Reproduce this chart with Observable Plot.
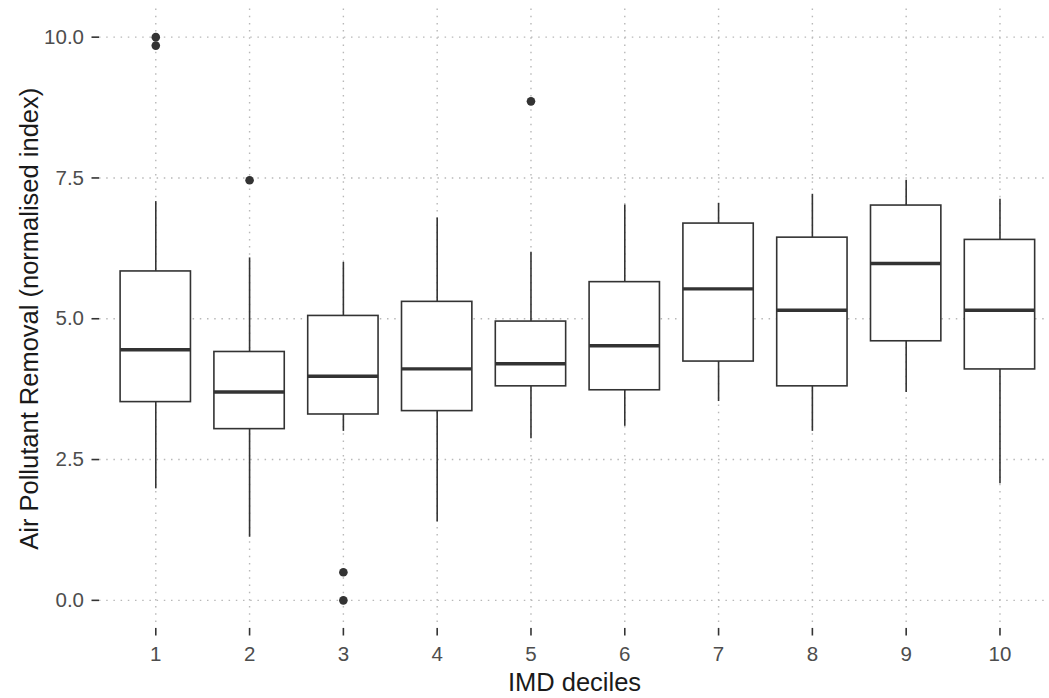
<!DOCTYPE html>
<html>
<head>
<meta charset="utf-8">
<script src="https://cdn.jsdelivr.net/npm/d3@7"></script>
<script src="https://cdn.jsdelivr.net/npm/@observablehq/plot@0.6"></script>
<style>
  html, body { margin: 0; padding: 0; background: #ffffff; overflow: hidden; }
</style>
</head>
<body>
<div id="chart"></div>
<script>
// ---- Data ----
const deciles   = [1, 2, 3, 4, 5, 6, 7, 8, 9, 10];
const whiskerLo = [1.98, 1.12, 3.00, 1.39, 2.87, 3.09, 3.53, 3.00, 3.69, 2.07];
const q1        = [3.52, 3.04, 3.30, 3.36, 3.80, 3.73, 4.24, 3.80, 4.60, 4.10];
const medians   = [4.45, 3.70, 3.98, 4.11, 4.20, 4.52, 5.53, 5.15, 5.98, 5.15];
const q3        = [5.84, 4.41, 5.05, 5.30, 4.95, 5.65, 6.69, 6.44, 7.01, 6.40];
const whiskerHi = [7.08, 6.08, 6.00, 6.79, 6.18, 7.02, 7.05, 7.21, 7.46, 7.12];
const outlierDecile = [1, 1, 2, 3, 3, 5];
const outlierValue  = [10.0, 9.85, 7.46, 0.50, 0.00, 8.86];
const yTicks = [0, 2.5, 5, 7.5, 10];
const xTitle = "IMD deciles";
const yTitle = "Air Pollutant Removal (normalised index)";

// ---- Tables built from the arrays ----
const boxes = deciles.map((d, i) => ({
  decile: d, lo: whiskerLo[i], q1: q1[i], med: medians[i], q3: q3[i], hi: whiskerHi[i]
}));
const outliers = outlierDecile.map((d, i) => ({decile: d, value: outlierValue[i]}));

const halfWidth = 0.375;
const dark = "#333333";
const gridStyle = {stroke: "#b8b8b8", strokeOpacity: 1, strokeWidth: 1.4, strokeDasharray: "1.5,5.7"};

const chart = Plot.plot({
  width: 1049,
  height: 698,
  marginLeft: 99,
  marginRight: 0,
  marginTop: 8.5,
  marginBottom: 70,
  style: {fontFamily: "'Liberation Sans', Arial, sans-serif", background: "#ffffff", color: dark},
  x: {type: "linear", domain: [0.4, 10.528]},
  y: {type: "linear", domain: [-0.5, 10.5]},
  marks: [
    Plot.gridY(yTicks, gridStyle),
    Plot.gridX(deciles, gridStyle),
    // whiskers
    Plot.ruleX(boxes, {x: "decile", y1: "lo", y2: "q1", stroke: dark, strokeWidth: 1.6}),
    Plot.ruleX(boxes, {x: "decile", y1: "q3", y2: "hi", stroke: dark, strokeWidth: 1.6}),
    // boxes
    Plot.rect(boxes, {
      x1: d => d.decile - halfWidth, x2: d => d.decile + halfWidth,
      y1: "q1", y2: "q3", fill: "#ffffff", stroke: dark, strokeWidth: 1.6
    }),
    // medians
    Plot.ruleY(boxes, {
      y: "med", x1: d => d.decile - halfWidth, x2: d => d.decile + halfWidth,
      stroke: dark, strokeWidth: 3.4
    }),
    // outliers
    Plot.dot(outliers, {x: "decile", y: "value", r: 4.3, fill: dark, stroke: "none"}),
    // axes
    Plot.axisX({
      ticks: deciles, tickFormat: d => String(d), tickSize: 7.5, tickPadding: 10,
      fontSize: 20.5, stroke: dark, strokeWidth: 1.6, fill: "#4d4d4d", label: null
    }),
    Plot.axisY({
      ticks: yTicks, tickFormat: d3.format(".1f"), tickSize: 7.5, tickPadding: 8,
      fontSize: 20.5, stroke: dark, strokeWidth: 1.6, fill: "#4d4d4d", label: null
    }),
    // axis titles
    Plot.text([xTitle], {
      text: d => d, frameAnchor: "bottom", lineAnchor: "bottom", textAnchor: "middle", dy: 62,
      fontSize: 25.5, fill: "#1a1a1a"
    }),
    Plot.text([yTitle], {
      text: d => d, frameAnchor: "left", lineAnchor: "bottom", textAnchor: "middle",
      rotate: -90, dx: -62, fontSize: 25.5, fill: "#1a1a1a"
    })
  ]
});

document.getElementById("chart").appendChild(chart);
</script>
</body>
</html>
